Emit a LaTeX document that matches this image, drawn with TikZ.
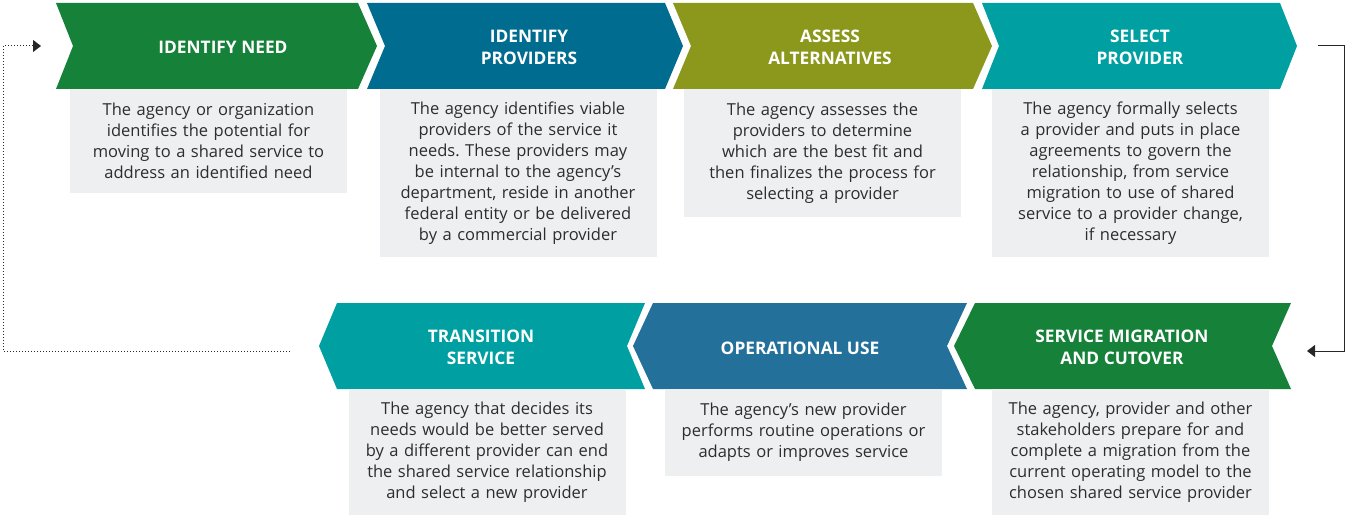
\documentclass[tikz,border=0pt]{standalone}
\usepackage{fontspec}
\setmainfont{Open Sans}
\usetikzlibrary{arrows.meta}
\definecolor{cgreen}{RGB}{21,129,57}
\definecolor{cblue}{RGB}{0,108,143}
\definecolor{colive}{RGB}{139,152,28}
\definecolor{cteal}{RGB}{0,160,162}
\definecolor{csteel}{RGB}{35,112,155}
\definecolor{boxgray}{RGB}{238,239,241}
\definecolor{txtgray}{RGB}{45,45,45}
\definecolor{linkgray}{RGB}{40,38,40}
\frenchspacing
\begin{document}
\begin{tikzpicture}[x=1pt,y=-1pt,
  infobox/.style={fill=boxgray, text=txtgray, anchor=north, inner sep=0pt,
    text width=277pt, align=center, font=\fontsize{16.5}{21}\selectfont},
  title/.style={text=white, align=center, inner sep=0pt, font=\bfseries\fontsize{17.3}{22}\selectfont},
  link/.style={draw=linkgray, line width=1pt, -{Triangle[length=8pt,width=12pt]}},
  dotlink/.style={link, dash pattern=on 1pt off 2pt},
]
\useasboundingbox (0,0) rectangle (1350,516);
% top row chevrons
\fill[cgreen] (56,3) -- (358,3) -- (377,46) -- (358,89) -- (56,89) -- (73,46) -- cycle;
\fill[cblue]  (367,3) -- (665,3) -- (683,46) -- (665,89) -- (367,89) -- (385,46) -- cycle;
\fill[colive] (673,3) -- (973,3) -- (992,46) -- (973,89) -- (673,89) -- (691,46) -- cycle;
\fill[cteal]  (982,3) -- (1280,3) -- (1297,46) -- (1280,89) -- (982,89) -- (999,46) -- cycle;
% bottom row chevrons
\fill[cteal]  (319,346) -- (337,303) -- (645,303) -- (627,346) -- (645,389) -- (337,389) -- cycle;
\fill[csteel] (633,346) -- (653,303) -- (967,303) -- (947,346) -- (967,389) -- (653,389) -- cycle;
\fill[cgreen] (954,346) -- (975,303) -- (1291,303) -- (1272,346) -- (1291,389) -- (975,389) -- cycle;
% titles
\node[title] (t1) at (223,47) {IDENTIFY NEED};
\node[title] (t2) at (529,47) {IDENTIFY\\PROVIDERS};
\node[title] (t3) at (830,47) {ASSESS\\ALTERNATIVES};
\node[title] (t4) at (1140,47) {SELECT\\PROVIDER};
\node[title] (t5) at (481,347) {TRANSITION\\SERVICE};
\node[title] (t6) at (800,348) {OPERATIONAL USE};
\node[title] (t7) at (1122,347) {SERVICE MIGRATION\\AND CUTOVER};
% description boxes
\node[infobox, minimum height=104pt] (b1) at (208.5,89) {The agency or organization\\identifies the potential for\\moving to a shared service to\\address an identified need};
\node[infobox, minimum height=168pt] (b2) at (518,89) {The agency identifies viable\\providers of the service it\\needs. These providers may\\be internal to the agency’s\\department, reside in another\\federal entity or be delivered\\by a commercial provider};
\node[infobox, minimum height=128pt] (b3) at (822.5,89) {The agency assesses the\\providers to determine\\which are the best fit and\\then finalizes the process for\\selecting a provider};
\node[infobox, minimum height=168pt] (b4) at (1130.5,89) {The agency formally selects\\a provider and puts in place\\agreements to govern the\\relationship, from service\\migration to use of shared\\service to a provider change,\\if necessary};
\node[infobox, minimum height=126pt] (b5) at (487,389) {The agency that decides its\\needs would be better served\\by a different provider can end\\the shared service relationship\\and select a new provider};
\node[infobox, minimum height=87pt] (b6) at (803.5,389) {The agency’s new provider\\performs routine operations or\\adapts or improves service};
\node[infobox, minimum height=126pt] (b7) at (1130.5,389) {The agency, provider and other\\stakeholders prepare for and\\complete a migration from the\\current operating model to the\\chosen shared service provider};
% connectors
\coordinate (ds) at (290,351);
\coordinate (d1) at (3,351);
\coordinate (d2) at (3,46);
\coordinate (de) at (41,46);
\draw[dotlink] (ds) -- (d1) -- (d2) -- (de);
\coordinate (rs) at (1318,46);
\coordinate (r1) at (1344,46);
\coordinate (r2) at (1344,351);
\coordinate (re) at (1307,351);
\draw[link] (rs) -- (r1) -- (r2) -- (re);
\end{tikzpicture}
\end{document}
